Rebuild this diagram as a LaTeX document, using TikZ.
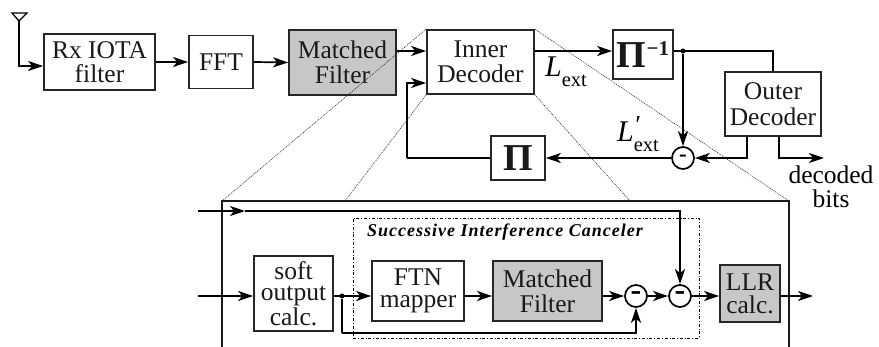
\documentclass[tikz,border=0pt]{standalone}
\usepackage{fontspec}
\setmainfont{Liberation Serif}
\usetikzlibrary{arrows.meta,calc}
\newcommand{\lext}[1]{{\fontsize{30}{30}\selectfont\itshape L}\rlap{\raisebox{8pt}{\fontsize{26}{26}\selectfont\itshape #1}}\raisebox{-10pt}{\fontsize{20.5}{20}\selectfont ext}}
\tikzset{
  x=1pt,y=-1pt,
  tx/.style={font=\fontsize{25.5}{#1}\selectfont},
  boxn/.style={draw=black!85,line width=1.7pt,fill=white,inner sep=0pt,align=center,text=black!90},
  shaded/.style={boxn,fill=black!22},
  conn/.style={line width=1.7pt,black,line join=miter},
  arr/.style={conn,-{Stealth[length=15pt,width=10pt,inset=4pt]}},
  sumn/.style={circle,draw=black,line width=1.7pt,fill=white,minimum size=22pt,inner sep=0pt},
  zoomline/.style={line width=0.6pt,dash pattern=on 1pt off 1pt,black!85},
  dotn/.style={circle,fill=black,minimum size=5pt,inner sep=0pt},
  lab/.style={inner sep=0pt,anchor=base west}
}
\newcommand{\minusbar}[1]{\raisebox{-1.5pt}{\fontsize{#1}{#1}\selectfont\bfseries -}}
\begin{document}
\begin{tikzpicture}
\useasboundingbox (0,0) rectangle (879,347);
\fill[white] (0,0) rectangle (879,347);
% top row
\node[boxn,tx=24.5,minimum width=111pt,minimum height=56pt] (rx) at (99.5,62) {Rx IOTA\\filter};
\node[boxn,tx=25,minimum width=64pt,minimum height=53pt] (fft) at (221,62) {FFT};
\node[shaded,tx=25,minimum width=107pt,minimum height=65pt] (mf) at (342.5,62.5) {Matched\\Filter};
\node[boxn,tx=25.5,minimum width=107pt,minimum height=64pt] (inner) at (480.5,62) {Inner\\Decoder};
\node[boxn,minimum width=60pt,minimum height=49pt] (pinv) at (643,54.5) {\fontsize{38}{38}\selectfont\bfseries Π\raisebox{12pt}{\fontsize{21}{21}\selectfont −1}};
\node[boxn,tx=25.5,minimum width=96pt,minimum height=64pt] (outer) at (773,104) {Outer\\Decoder};
\node[boxn,minimum width=54pt,minimum height=44pt] (pi) at (518,158) {\fontsize{38}{38}\selectfont\bfseries Π};
\node[sumn] (s0) at (683,158) {\minusbar{23}};
\node[lab] (l1) at (545,77) {\lext{}};
\node[lab] (l2) at (617,142) {\lext{′}};
\node[inner sep=0pt,align=center,tx=24] (dec) at (831,187) {decoded\\bits};
% antenna
\coordinate (antT) at (19,21);
\coordinate (antL) at (12,13);
\coordinate (antR) at (27,13);
\draw[line width=1.3pt] (antL) -- (antR) -- (antT) -- cycle;
\draw[arr] (antT) |- ([yshift=-4pt]rx.west);
\draw[arr] (rx.east) -- (fft.west);
\draw[arr] (fft.east) -- (mf.west);
\draw[arr] ([yshift=11.5pt]mf.east) -- ([yshift=11pt]inner.west);
\draw[arr] ([yshift=11pt]inner.east) -- ([yshift=3.5pt]pinv.west);
\node[dotn] (d0) at (683,51) {};
\draw[conn] ([yshift=3.5pt]pinv.east) -| (outer.north);
\draw[arr] (d0) -- (s0.north);
\coordinate (oa) at ([xshift=-26pt]outer.south);
\coordinate (ob) at ([xshift=6pt]outer.south);
\coordinate (oc) at (824,158);
\draw[arr] (oa) |- (s0.east);
\draw[arr] (ob) |- (oc);
\draw[arr] (s0.west) -- (pi.east);
\coordinate (fb) at (407,158);
\draw[conn] (pi.west) -- (fb);
\draw[arr] (fb) |- ([yshift=-21pt]inner.west);
% big box
\coordinate (bl) at (222,347);
\coordinate (btl) at (222,201);
\coordinate (btr) at (789,201);
\coordinate (br) at (789,347);
\draw[line width=1.6pt,black!90] (bl) -- (btl) -- (btr) -- (br);
% SIC dash box
\node[draw,line width=0.6pt,dash dot,minimum width=346pt,minimum height=120pt,inner sep=0pt] (sic) at (526,278) {};
\node[inner sep=0pt] (sict) at (505,232) {\fontsize{18}{18}\selectfont\addfontfeature{LetterSpace=5.5}\bfseries\itshape Successive Interference Canceler};
% inner row
\node[boxn,tx=21.5,minimum width=79pt,minimum height=75pt] (soft) at (293.5,293.5) {soft\\output\\calc.};
\node[boxn,tx=21.7,minimum width=92pt,minimum height=60pt] (ftn) at (418,291) {FTN\\mapper};
\node[shaded,tx=25,minimum width=109pt,minimum height=60pt] (mf2) at (547.5,291) {Matched\\Filter};
\node[sumn] (s1) at (636,296) {\minusbar{32}};
\node[sumn] (s2) at (680,296) {\minusbar{32}};
\node[shaded,tx=23,minimum width=60pt,minimum height=57pt] (llr) at (750,293.5) {LLR\\calc.};
\coordinate (ia) at (198,211);
\coordinate (ib) at (245,211);
\coordinate (ic) at (198,296);
\coordinate (oe) at (813,296);
\coordinate (fc) at (342,333);
\draw[arr] (ia) -- (ib);
\draw[arr] (ib) -| (s2.north);
\draw[arr] (ic) -- (soft.west |- ic);
\node[dotn] (d1) at (342,296) {};
\draw[arr] (soft.east |- d1) -- (ftn.west |- d1);
\draw[conn] (d1) -- (fc);
\draw[arr] (fc) -| (s1.south);
\draw[arr] (ftn.east |- s1) -- (mf2.west |- s1);
\draw[arr] (mf2.east |- s1) -- (s1.west);
\draw[arr] (s1.east) -- (s2.west);
\draw[arr] (s2.east) -- (llr.west |- s2);
\draw[arr] (llr.east |- s2) -- (oe);
% zoom lines
\draw[zoomline] (inner.north west) -- (btl);
\draw[zoomline] (inner.south west) -- (345,201);
\draw[zoomline] (inner.north east) -- (btr);
\draw[zoomline] (inner.south east) -- (630,201);
\end{tikzpicture}
\end{document}
